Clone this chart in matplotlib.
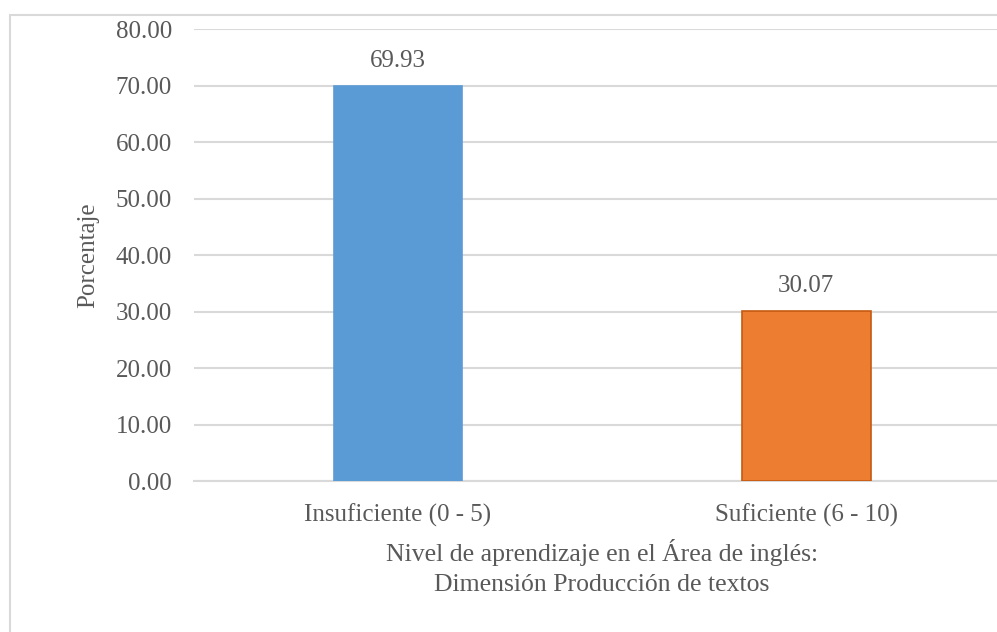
import matplotlib
matplotlib.use("Agg")
import matplotlib.pyplot as plt
from matplotlib.patches import Rectangle

categorias = ["Insuficiente (0 - 5)", "Suficiente (6 - 10)"]
porcentajes = [69.93, 30.07]
colores = ["#5B9BD5", "#ED7D31"]
bordes = ["#5B9BD5", "#C55A11"]
yticks = [0, 10, 20, 30, 40, 50, 60, 70, 80]

plt.rcParams["font.family"] = ["Liberation Serif", "DejaVu Serif"]
gris = "#595959"

fig = plt.figure(figsize=(9.97, 6.32), dpi=100)
ax = fig.add_axes([0.1946, 0.2389, 0.8185, 0.7152])

# marco del área del gráfico
fig.patches.append(Rectangle((10 / 997, -0.1), 1.2, 1 - 15 / 632 + 0.1,
                             transform=fig.transFigure, fill=False,
                             edgecolor="#D9D9D9", linewidth=1.5))

x = range(len(categorias))
barras = ax.bar(x, porcentajes, width=0.316, color=colores, edgecolor=bordes,
                linewidth=1.2, zorder=3)
for b, v in zip(barras, porcentajes):
    ax.annotate(f"{v:.2f}", (b.get_x() + b.get_width() / 2, v),
                xytext=(0, 10), textcoords="offset points", ha="center",
                va="bottom", fontsize=18, color=gris)

ax.set_xlim(-0.5, 1.5)
ax.set_ylim(0, 80)
ax.set_yticks(yticks)
ax.set_yticklabels([f"{t:.2f}" for t in yticks])
ax.set_xticks(list(x))
ax.set_xticklabels(categorias)
ax.tick_params(axis="both", length=0, labelsize=18, colors=gris)
ax.tick_params(axis="y", pad=16)
ax.tick_params(axis="x", pad=16)
ax.grid(axis="y", color="#D9D9D9", linewidth=1.5, zorder=0)
for s in ["top", "right", "left"]:
    ax.spines[s].set_visible(False)
ax.spines["bottom"].set_color("#D9D9D9")
ax.spines["bottom"].set_linewidth(1.5)

ax.set_ylabel("Porcentaje", fontsize=18, color=gris, labelpad=12)
ax.set_xlabel("Nivel de aprendizaje en el Área de inglés:\nDimensión Producción de textos",
              fontsize=18.5, color=gris, labelpad=9, linespacing=1.45)

fig.savefig("out.png", dpi=100)
